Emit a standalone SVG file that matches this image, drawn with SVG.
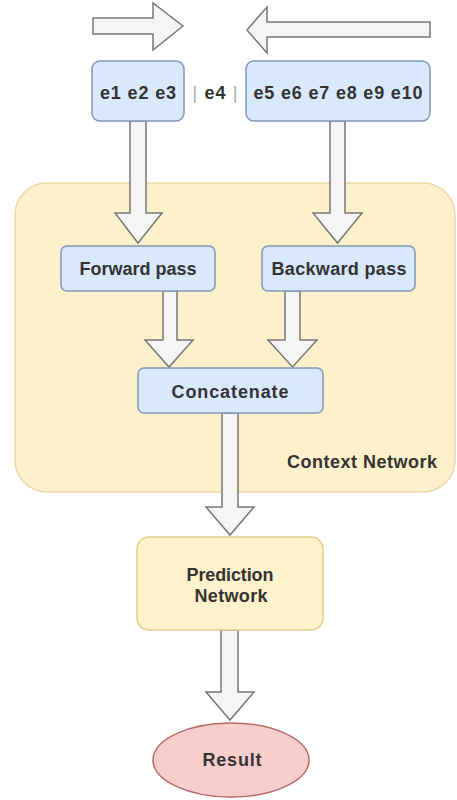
<svg xmlns="http://www.w3.org/2000/svg" width="457" height="800" viewBox="0 0 457 800">
<style>
.blue{fill:#dae8fc;stroke:#8096b8;stroke-width:1.5}
.yel{fill:#fff2cc;stroke:#e3cc8c;stroke-width:1.5}
.red{fill:#f8cecc;stroke:#b86a66;stroke-width:1.5}
.arr{fill:#f5f5f5;stroke:#777777;stroke-width:1.5;stroke-linejoin:miter}
.t{font-family:"Liberation Sans",Arial,sans-serif;font-weight:bold;font-size:18px;fill:#333333;text-anchor:middle}
</style>
<rect width="457" height="800" fill="#ffffff"/>
<g id="context-network">
<rect class="yel" x="15" y="183" width="440" height="309" rx="32" style="stroke:#ecd9a4;fill:#fef0ca"/>
<text class="t" x="362" y="468" textLength="150">Context Network</text>
</g>
<g id="connectors">
<polygon class="arr" points="93,18 153,18 153,3 183,26 153,50 153,34 93,34"/>
<polygon class="arr" points="430,22 267,22 267,7 247,30 267,53 267,37 430,37"/>
<polygon class="arr" points="130,121 146,121 146,213 162,213 138,243 115,213 130,213"/>
<polygon class="arr" points="330,121 345,121 345,213 362,213 337.5,243 313,213 330,213"/>
<polygon class="arr" points="163,291 177,291 177,340 193,340 169,367 145,340 163,340"/>
<polygon class="arr" points="285,291 300,291 300,340 317,340 292.5,367 268,340 285,340"/>
<polygon class="arr" points="222,413 238,413 238,507 254,507 230,535 206,507 222,507"/>
<polygon class="arr" points="221,630 238,630 238,692 254,692 230,720 206,692 221,692"/>
</g>
<g id="input-left">
<rect class="blue" x="92" y="61" width="92" height="60" rx="8"/>
<text class="t" x="138" y="99" textLength="76">e1 e2 e3</text>
</g>
<g id="input-middle">
<text class="t" x="215" y="99" textLength="45"><tspan fill="#aaaaaa" font-weight="normal">|</tspan> e4 <tspan fill="#aaaaaa" font-weight="normal">|</tspan></text>
</g>
<g id="input-right">
<rect class="blue" x="246" y="61" width="184" height="60" rx="8"/>
<text class="t" x="338" y="99" textLength="169">e5 e6 e7 e8 e9 e10</text>
</g>
<g id="forward-pass">
<rect class="blue" x="61" y="246" width="154" height="45" rx="6"/>
<text class="t" x="138" y="275" textLength="117">Forward pass</text>
</g>
<g id="backward-pass">
<rect class="blue" x="262" y="246" width="153" height="45" rx="6"/>
<text class="t" x="339" y="275" textLength="135">Backward pass</text>
</g>
<g id="concatenate">
<rect class="blue" x="138" y="368" width="185" height="45" rx="6"/>
<text class="t" x="230" y="398" textLength="117">Concatenate</text>
</g>
<g id="prediction-network">
<rect class="yel" x="137" y="537" width="186" height="93" rx="12"/>
<text class="t" x="230" y="581" textLength="87">Prediction</text>
<text class="t" x="231" y="602" textLength="73">Network</text>
</g>
<g id="result">
<ellipse class="red" cx="231" cy="760" rx="78" ry="37"/>
<text class="t" x="232" y="766" textLength="59">Result</text>
</g>
</svg>
